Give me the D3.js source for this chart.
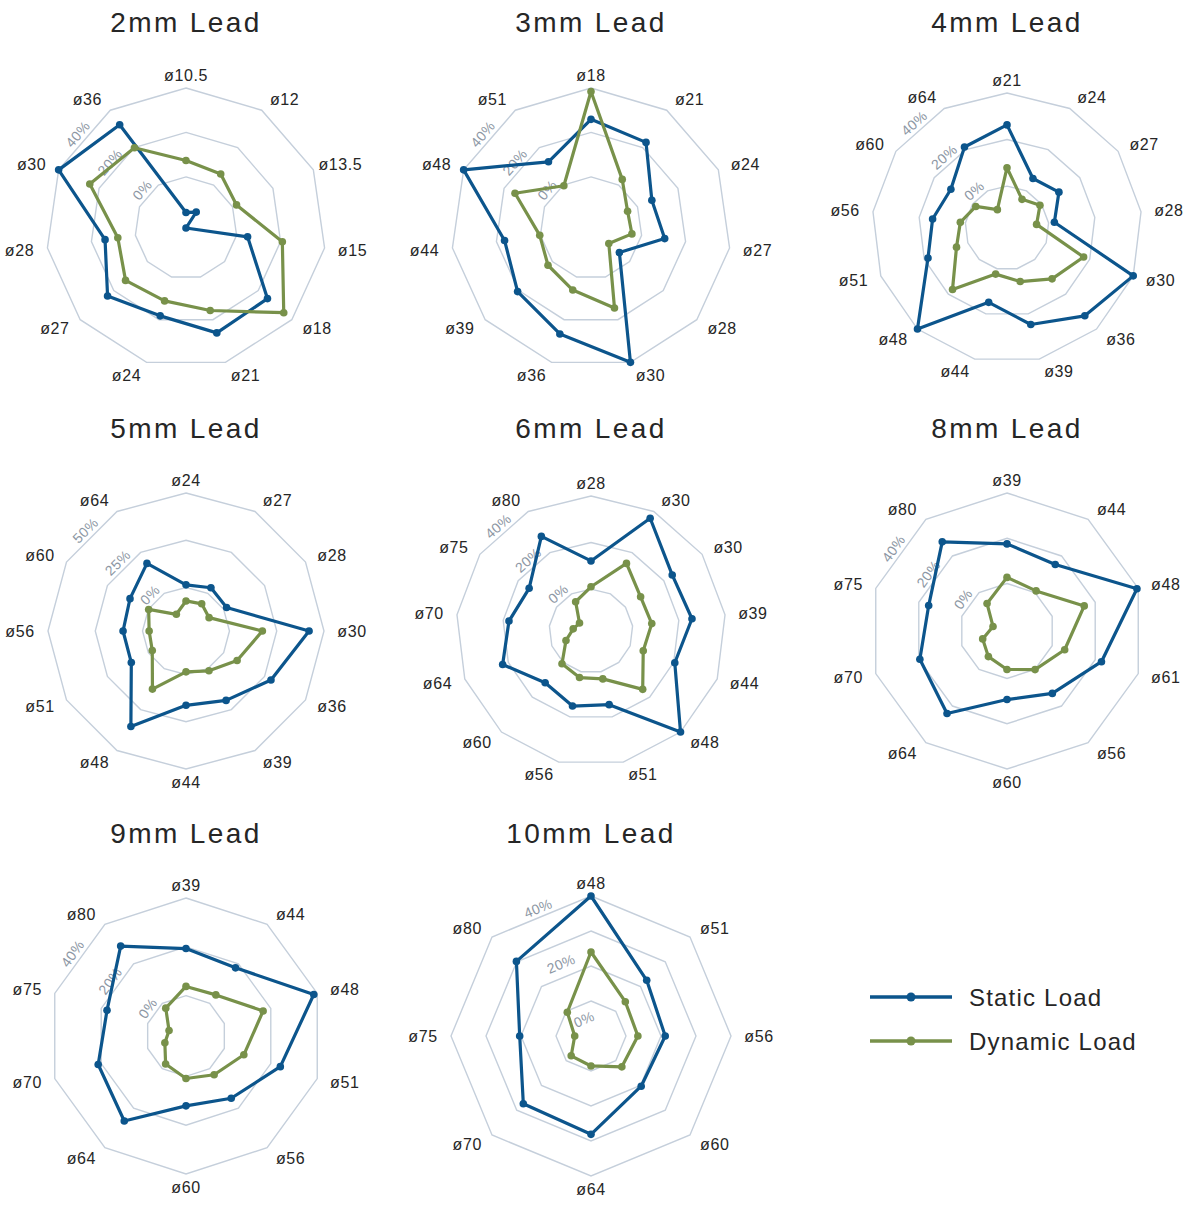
<!DOCTYPE html>
<html>
<head>
<meta charset="utf-8">
<script src="https://cdn.jsdelivr.net/npm/d3@7"></script>
<style>
  body { margin: 0; background: #fff; }
  text { font-family: "Liberation Sans", Arial, sans-serif; }
</style>
</head>
<body>
<svg width="1195" height="1208"></svg>
<script>
// ---- data (percent values) ----
var titles = ["2mm Lead", "3mm Lead", "4mm Lead", "5mm Lead", "6mm Lead", "8mm Lead", "9mm Lead", "10mm Lead"];

var axes2 = ["ø10.5", "ø12", "ø13.5", "ø15", "ø18", "ø21", "ø24", "ø27", "ø28", "ø30", "ø36"];
var static2 = [-16, -14.5, -23, 5, 25.5, 26.2, 18.2, 23.7, 13.8, 40, 32.2];
var dynamic2 = [7.4, 5.9, 2, 20.8, 35.2, 15.7, 11.2, 13, 8, 24.6, 19.9];

var axes3 = ["ø18", "ø21", "ø24", "ø27", "ø28", "ø30", "ø36", "ø39", "ø44", "ø48", "ø51"];
var static3 = [25.9, 22.8, 7.1, 10.5, -6.1, 40, 26.7, 20.7, 16.3, 40, 12.4];
var dynamic3 = [38.4, 3, -4.9, -4.4, -12.4, 14.5, 6.1, 2.6, 0.3, 14.6, -0.4];

var axes4 = ["ø21", "ø24", "ø27", "ø28", "ø30", "ø36", "ø39", "ø44", "ø48", "ø51", "ø56", "ø60", "ø64"];
var static4 = [26.3, 6, 9.1, 2.5, 40, 32.4, 24.7, 14.9, 40, 18.3, 14.2, 11.3, 21.3];
var dynamic4 = [7.9, -4.1, -0.8, -5.2, 17.2, 11.2, 5.7, 2.4, 17.3, 5.2, 2.2, -1.7, -9.1];

var axes5 = ["ø24", "ø27", "ø28", "ø30", "ø36", "ø39", "ø44", "ø48", "ø51", "ø56", "ø60", "ø64"];
var static5 = [1.4, 3.4, 1.8, 42.1, 28.9, 19.4, 16.3, 35.3, 10.4, 10.3, 11.2, 18.3];
var dynamic5 = [-7.1, -6.4, -8.9, 17.4, 8.2, 1.3, -1.4, 12.5, -2.4, -3.5, -0.2, -12.8];

var axes6 = ["ø28", "ø30", "ø30", "ø39", "ø44", "ø48", "ø51", "ø56", "ø60", "ø64", "ø70", "ø75", "ø80"];
var static6 = [12.1, 36.7, 24.4, 25.7, 20.5, 40, 14.6, 15.2, 11.7, 22.6, 17.5, 14.3, 27.9];
var dynamic6 = [1, 14.8, 7.9, 8.3, 6, 15.5, 3.2, 2.6, 0.8, -6.5, -10.3, -12, -3.8];

var axes8 = ["ø39", "ø44", "ø48", "ø61", "ø56", "ø60", "ø64", "ø70", "ø75", "ø80"];
var static8 = [17.5, 15.3, 39.4, 22.9, 13.1, 9.3, 24.1, 19.5, 15.4, 27.7];
var dynamic8 = [2.7, 0.9, 14.9, 5.8, 0.1, -4, -7, -9.7, -14.5, -6];

var axes9 = ["ø39", "ø44", "ø48", "ø51", "ø56", "ø60", "ø64", "ø70", "ø75", "ø80"];
var static9 = [19.3, 18, 38.5, 24.1, 15, 12.1, 26.5, 21.3, 17.5, 29];
var dynamic9 = [3.8, 4.3, 16.7, 8.4, 3.1, 0.9, -2.3, -7.4, -9.2, -2.4];

var axes10 = ["ø48", "ø51", "ø56", "ø60", "ø64", "ø70", "ø75", "ø80"];
var static10 = [40, 21.2, 19.8, 18.8, 27.2, 26.4, 18.9, 29.4];
var dynamic10 = [22.8, 11.9, 11.4, 10.4, 6.2, 5.6, 2, 7.3];

// radial scale domains, grid rings and labelled ticks
var domains = [[-23, 40], [-23, 40], [-18, 40], [-23, 50], [-18, 40], [-21, 40], [-16.5, 40], [-3, 40]];
var ringValues = [[0, 20, 40], [0, 20, 40], [0, 20, 40], [0, 25, 50], [0, 20, 40], [0, 20, 40], [0, 20, 40], [7.75, 18.5, 29.25, 40]];
var tickValues = [[0, 20, 40], [0, 20, 40], [0, 20, 40], [0, 25, 50], [0, 20, 40], [0, 20, 40], [0, 20, 40], [0, 20, 40]];

var seriesNames = ["Static Load", "Dynamic Load"];
var colors = ["#0c558c", "#78914a"];

var charts = [
  [axes2, static2, dynamic2], [axes3, static3, dynamic3], [axes4, static4, dynamic4],
  [axes5, static5, dynamic5], [axes6, static6, dynamic6], [axes8, static8, dynamic8],
  [axes9, static9, dynamic9], [axes10, static10, dynamic10]
];

// ---- layout ----
var svg = d3.select("svg");
var colX = [186, 591, 1007];
var rowY = [228, 631, 1036];
var titleY = [22, 428, 833];
var radiusFor = { 8: 140, 10: 138, 11: 140, 12: 138, 13: 135 };

function drawRadar(i) {
  var axes = charts[i][0];
  var n = axes.length;
  var R = radiusFor[n];
  var cx = colX[i % 3], cy = rowY[Math.floor(i / 3)];

  var g = svg.append("g").attr("transform", `translate(${cx},${cy})`);

  var rScale = d3.scaleLinear().domain(domains[i]).range([0, R]);
  var aScale = d3.scaleLinear().domain([0, n]).range([0, 2 * Math.PI]);
  var idx = d3.range(n);

  // title
  svg.append("text")
    .attr("x", cx).attr("y", titleY[Math.floor(i / 3)])
    .attr("dy", "0.36em")
    .attr("text-anchor", "middle")
    .attr("font-size", 28)
    .attr("letter-spacing", 2.4)
    .attr("fill", "#262626")
    .text(titles[i]);

  // grid rings
  var ringLine = d3.lineRadial().curve(d3.curveLinearClosed);
  g.selectAll("path.ring").data(ringValues[i]).enter().append("path")
    .attr("class", "ring")
    .attr("d", function (v) { return ringLine(idx.map(function (k) { return [aScale(k), rScale(v)]; })); })
    .attr("fill", "none")
    .attr("stroke", "#c5cfdb")
    .attr("stroke-width", 1.4);

  // tick labels sit on the ring edge that holds the 315deg direction
  var k = Math.floor(1.75 * n / 2 + 1e-9) % n;
  var nrm = d3.pointRadial(aScale(k + 0.5), 1);
  g.selectAll("text.tick").data(tickValues[i]).enter().append("text")
    .attr("class", "tick")
    .attr("transform", function (v) {
      var pa = d3.pointRadial(aScale(k), rScale(v));
      var pb = d3.pointRadial(aScale(k + 1), rScale(v));
      var mx = (pa[0] + pb[0]) / 2 + nrm[0] * 4;
      var my = (pa[1] + pb[1]) / 2 + nrm[1] * 4;
      var rot = Math.atan2(pb[1] - pa[1], pb[0] - pa[0]) * 180 / Math.PI;
      return `translate(${mx},${my}) rotate(${rot})`;
    })
    .attr("text-anchor", "middle")
    .attr("font-size", 14)
    .attr("letter-spacing", 0.4)
    .attr("fill", "#8d97a4")
    .text(function (v) { return v + "%"; });

  // category labels
  g.selectAll("text.cat").data(axes).enter().append("text")
    .attr("class", "cat")
    .attr("text-anchor", "middle")
    .attr("dy", "0.36em")
    .attr("font-size", 16)
    .attr("letter-spacing", 0.6)
    .attr("fill", "#262626")
    .attr("x", function (d, j) {
      var s = Math.sin(aScale(j));
      return (R + 11) * s + (Math.abs(s) > 0.05 ? 17 * Math.sign(s) : 0);
    })
    .attr("y", function (d, j) { return -(R + 13) * Math.cos(aScale(j)); })
    .text(function (d) { return d; });

  // series
  var line = d3.lineRadial()
    .angle(function (d, j) { return aScale(j); })
    .radius(function (d) { return rScale(d); })
    .curve(d3.curveLinearClosed);

  [charts[i][1], charts[i][2]].forEach(function (values, s) {
    g.append("path")
      .attr("d", line(values))
      .attr("fill", "none")
      .attr("stroke", colors[s])
      .attr("stroke-width", 3.2)
      .attr("stroke-linejoin", "round");
    g.selectAll("circle.s" + s).data(values).enter().append("circle")
      .attr("class", "s" + s)
      .attr("cx", function (d, j) { return d3.pointRadial(aScale(j), rScale(d))[0]; })
      .attr("cy", function (d, j) { return d3.pointRadial(aScale(j), rScale(d))[1]; })
      .attr("r", 3.8)
      .attr("fill", colors[s]);
  });
}

d3.range(charts.length).forEach(drawRadar);

// legend
var legend = svg.append("g").attr("transform", "translate(870,997)");
seriesNames.forEach(function (name, s) {
  var row = legend.append("g").attr("transform", `translate(0,${s * 44})`);
  row.append("line").attr("x1", 0).attr("x2", 82).attr("y1", 0).attr("y2", 0)
    .attr("stroke", colors[s]).attr("stroke-width", 3.5);
  row.append("circle").attr("cx", 41).attr("cy", 0).attr("r", 4.5).attr("fill", colors[s]);
  row.append("text").attr("x", 99).attr("y", 0).attr("dy", "0.36em")
    .attr("font-size", 24).attr("letter-spacing", 1.2).attr("fill", "#262626")
    .text(name);
});
</script>
</body>
</html>
